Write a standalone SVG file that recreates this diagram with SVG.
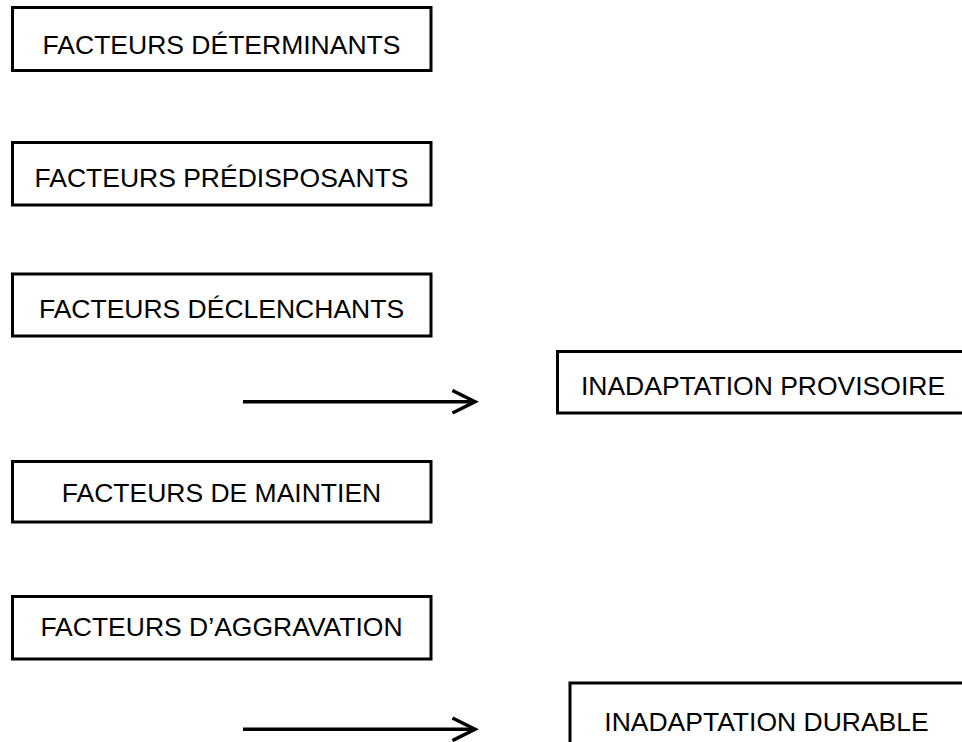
<svg xmlns="http://www.w3.org/2000/svg" width="962" height="742" viewBox="0 0 962 742">
  <style>
    .box { fill: #ffffff; stroke: #000000; stroke-width: 3; }
    .label { font-family: "Liberation Sans", Arial, sans-serif; font-size: 26.5px; fill: #000000; text-anchor: middle; }
    .link { stroke: #000000; stroke-width: 3.5; fill: none; }
    .head { stroke: #000000; stroke-width: 3.5; fill: none; stroke-linecap: square; stroke-linejoin: miter; }
  </style>
  <rect width="962" height="742" fill="#ffffff"/>

  <g id="facteurs-determinants">
    <rect class="box" x="12.5" y="7.5" width="418.5" height="63"/>
    <text class="label" x="221.5" y="53.5">FACTEURS DÉTERMINANTS</text>
  </g>
  <g id="facteurs-predisposants">
    <rect class="box" x="12.5" y="142.5" width="418.5" height="62.5"/>
    <text class="label" x="221.5" y="186.5">FACTEURS PRÉDISPOSANTS</text>
  </g>
  <g id="facteurs-declenchants">
    <rect class="box" x="12.5" y="274" width="418.5" height="62"/>
    <text class="label" x="221.5" y="318">FACTEURS DÉCLENCHANTS</text>
  </g>
  <g id="facteurs-maintien">
    <rect class="box" x="12.5" y="461.5" width="418.5" height="60.5"/>
    <text class="label" x="221.5" y="502">FACTEURS DE MAINTIEN</text>
  </g>
  <g id="facteurs-aggravation">
    <rect class="box" x="12.5" y="596.5" width="418.5" height="62.5"/>
    <text class="label" x="221.5" y="636">FACTEURS D’AGGRAVATION</text>
  </g>
  <g id="inadaptation-provisoire">
    <rect class="box" x="557.5" y="351.5" width="412" height="61.5"/>
    <text class="label" x="763" y="394.5">INADAPTATION PROVISOIRE</text>
  </g>
  <g id="inadaptation-durable">
    <rect class="box" x="570" y="683" width="400" height="70"/>
    <text class="label" x="766.5" y="731">INADAPTATION DURABLE</text>
  </g>

  <g id="connectors">
    <line class="link" x1="243" y1="401.7" x2="472" y2="401.7"/>
    <polyline class="head" points="454,391.2 475,401.7 454,412.2"/>
    <line class="link" x1="243" y1="729.3" x2="472" y2="729.3"/>
    <polyline class="head" points="454,718.8 475,729.3 454,739.8"/>
  </g>
</svg>
